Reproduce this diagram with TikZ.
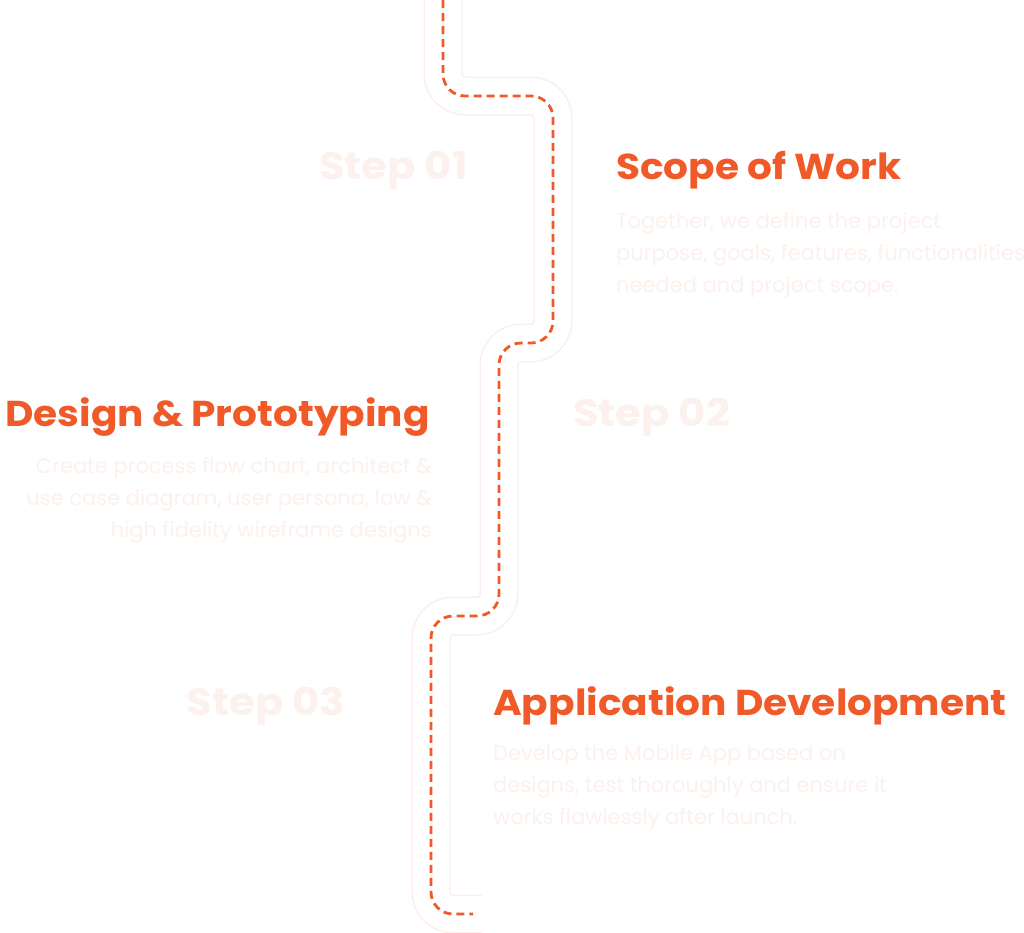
\documentclass[tikz,border=0pt]{standalone}
\usepackage{fontspec}
\setmainfont{Poppins}
\definecolor{brand}{RGB}{240,90,40}
\definecolor{ghost}{RGB}{252,241,236}
\definecolor{roadedge}{RGB}{252,238,233}
\begin{document}
\begin{tikzpicture}[x=1pt,y=-1pt,
  title/.style={font=\fontsize{36}{40}\selectfont\bfseries\addfontfeature{FakeStretch=1.085}, text=brand, inner sep=0pt},
  steplabel/.style={font=\fontsize{38}{40}\selectfont\bfseries\addfontfeature{FakeStretch=1.1}, text=ghost, inner sep=0pt},
  body/.style={font=\fontsize{21}{32}\selectfont, text=ghost, inner sep=0pt},
  roadline/.style={rounded corners=22pt, line cap=butt},
  dashline/.style={roadline, draw=brand, line width=2.8pt, dash pattern=on 8pt off 5pt}]
\useasboundingbox[fill=white] (0,0) rectangle (1024,932);
% route coordinates
\coordinate (p0) at (443,0);
\coordinate (p1) at (443,96);
\coordinate (p2) at (553,96);
\coordinate (p3) at (553,343);
\coordinate (p4) at (499,343);
\coordinate (p5) at (499,616);
\coordinate (p6) at (431,616);
\coordinate (p7) at (431,914);
\coordinate (p8) at (482,914);
% road
\draw[roadline, draw=roadedge, line width=39pt] (p0) -- (p1) -- (p2) -- (p3) -- (p4) -- (p5) -- (p6) -- (p7) -- (p8);
\draw[roadline, draw=white, line width=36pt] (p0) -- (p1) -- (p2) -- (p3) -- (p4) -- (p5) -- (p6) -- (p7) -- (p8);
\draw[dashline] (p0) -- (p1) -- (p2) -- (p3) -- (p4) -- (p5) -- (p6) -- (p7) -- ([xshift=-9pt]p8);
% step 1
\node[steplabel, anchor=base east] (s1) at (468,179) {Step 01};
\node[title, anchor=base west] (t1) at (616,179) {Scope of Work};
\node[body, anchor=base west, align=left] (b1) at (616,292) {Together, we define the project\\purpose, goals, features, functionalities\\needed and project scope.};
% step 2
\node[title, anchor=base east] (t2) at (430,426) {Design \& Prototyping};
\node[steplabel, anchor=base west] (s2) at (573,426) {Step 02};
\node[body, anchor=base east, align=right] (b2) at (432,537) {Create process flow chart, architect \&\\use case diagram, user persona, low \&\\high fidelity wireframe designs};
% step 3
\node[steplabel, anchor=base east] (s3) at (345,715) {Step 03};
\node[title, anchor=base west] (t3) at (493,715) {Application Development};
\node[body, anchor=base west, align=left] (b3) at (493,824) {Develop the Mobile App based on\\designs, test thoroughly and ensure it\\works flawlessly after launch.};
\end{tikzpicture}
\end{document}
